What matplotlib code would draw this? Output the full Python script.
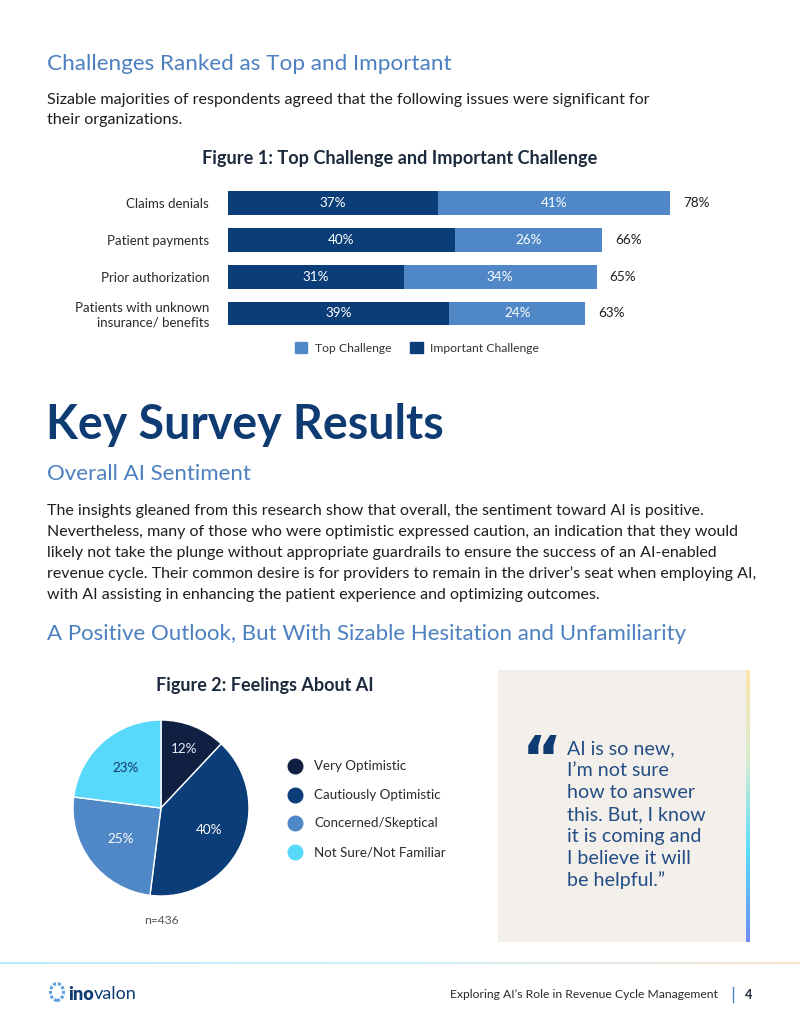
"""Recreate report page: challenges bar chart and AI feelings pie."""

import matplotlib
matplotlib.use('Agg')
import matplotlib.pyplot as plt
from matplotlib.patches import Rectangle, Patch, Circle
from matplotlib.lines import Line2D
from matplotlib.colors import LinearSegmentedColormap
import numpy as np

plt.rcParams['font.family'] = ['Lato', 'DejaVu Sans']

# Figure 1 data
challenges = ["Claims denials", "Patient payments", "Prior authorization",
              "Patients with unknown\ninsurance/ benefits"]
important = [37, 40, 31, 39]
top = [41, 26, 34, 24]
totals = [78, 66, 65, 63]

# Figure 2 data
feelings = ["Very Optimistic", "Cautiously Optimistic", "Concerned/Skeptical", "Not Sure/Not Familiar"]
feel_pct = [12, 40, 25, 23]

W, H = 800, 1035
fig = plt.figure(figsize=(W / 100, H / 100), dpi=100, facecolor="white")


def fx(x):
    return x / W


def fy(y):
    return 1 - y / H


def box(x0, y0, x1, y1):
    return [fx(x0), fy(y1), (x1 - x0) / W, (y1 - y0) / H]


LIGHT = "#5087c7"
DARK = "#0b3d79"
VDARK = "#0f2043"
CYAN = "#58d9fb"
HEAD = "#4c80c1"
NAVY = "#0d3b72"
TXT = "#1e1e1e"

# --- Top section text ---
fig.text(fx(47), fy(64), "Challenges Ranked as Top and Important", fontsize=16.2,
         color=HEAD, va="center")
fig.text(fx(47), fy(100), "Sizable majorities of respondents agreed that the following issues were significant for",
         fontsize=11.6, color=TXT, va="center")
fig.text(fx(47), fy(120), "their organizations.", fontsize=11.6, color=TXT, va="center")
fig.text(fx(400), fy(158), "Figure 1: Top Challenge and Important Challenge", fontsize=13.1,
         fontweight="bold", color="#1b2a3c", ha="center", va="center")

# --- Chart 1: stacked horizontal bars ---
ax1 = fig.add_axes(box(228, 185, 795, 331.8))
y = np.arange(len(challenges))
b_dark = ax1.barh(y, important, height=0.65, color=DARK, edgecolor="none")
b_light = ax1.barh(y, top, left=important, height=0.65, color=LIGHT, edgecolor="none")
for i in range(len(challenges)):
    ax1.text(important[i] / 2, y[i], f"{important[i]}%", color="white", fontsize=9.7,
             ha="center", va="center")
    ax1.text(important[i] + top[i] / 2, y[i], f"{top[i]}%", color="white", fontsize=9.7,
             ha="center", va="center")
    ax1.text(important[i] + top[i] + 2.3, y[i], f"{totals[i]}%", color=TXT, fontsize=9.7,
             ha="left", va="center")
ax1.set_xlim(0, 100)
ax1.set_ylim(len(challenges) - 0.5, -0.5)
ax1.set_yticks(y)
ax1.set_yticklabels(challenges, fontsize=9.5, color="#2a2a2a", linespacing=1.25)
ax1.tick_params(axis="y", length=0, pad=13.5)
ax1.set_xticks([])
for s in ax1.spines.values():
    s.set_visible(False)

fig.legend(handles=[Patch(color=LIGHT), Patch(color=DARK)],
           labels=["Top Challenge", "Important Challenge"],
           loc="center", bbox_to_anchor=(fx(417), fy(348)), ncol=2, frameon=False,
           fontsize=8.7, handlelength=1.0, handleheight=1.0, handletextpad=0.6,
           columnspacing=1.6, labelcolor="#333333")

# --- Key Survey Results section ---
fig.text(fx(46), fy(425), "Key Survey Results", fontsize=33.5, fontweight="bold",
         color=NAVY, va="center")
fig.text(fx(47), fy(474), "Overall AI Sentiment", fontsize=16, color=HEAD, va="center")
para = [
    "The insights gleaned from this research show that overall, the sentiment toward AI is positive.",
    "Nevertheless, many of those who were optimistic expressed caution, an indication that they would",
    "likely not take the plunge without appropriate guardrails to ensure the success of an AI-enabled",
    "revenue cycle. Their common desire is for providers to remain in the driver\u2019s seat when employing AI,",
    "with AI assisting in enhancing the patient experience and optimizing outcomes.",
]
for k, line in enumerate(para):
    fig.text(fx(47), fy(511 + 21 * k), line, fontsize=11.5, color=TXT, va="center")
fig.text(fx(47), fy(634), "A Positive Outlook, But With Sizable Hesitation and Unfamiliarity",
         fontsize=16, color=HEAD, va="center")

# --- Chart 2: pie ---
fig.text(fx(265), fy(685), "Figure 2: Feelings About AI", fontsize=13, fontweight="bold",
         color="#1b2a3c", ha="center", va="center")
pie_colors = [VDARK, DARK, LIGHT, CYAN]
ax2 = fig.add_axes(box(66, 713, 256, 903))
wedges, _ = ax2.pie(feel_pct, colors=pie_colors, startangle=90, counterclock=False,
                    wedgeprops=dict(edgecolor="white", linewidth=1))
lim = 95 / 88
ax2.set_xlim(-lim, lim)
ax2.set_ylim(-lim, lim)
lab_dist = [0.72, 0.6, 0.58, 0.6]
lab_col = ["#e8eef7", "white", "white", "#123a6a"]
for w, p, d, c in zip(wedges, feel_pct, lab_dist, lab_col):
    ang = np.deg2rad((w.theta1 + w.theta2) / 2)
    ax2.text(d * np.cos(ang), d * np.sin(ang), f"{p}%", ha="center", va="center",
             fontsize=9.7, color=c)

for k, (lab, col) in enumerate(zip(feelings, pie_colors)):
    yy = 766 + 28.7 * k
    fig.add_artist(Line2D([fx(295)], [fy(yy)], marker="o", markersize=10.5,
                          color=col, linestyle="none"))
    fig.text(fx(314), fy(yy), lab, fontsize=9.6, color="#2a2a2a", va="center")

fig.text(fx(161), fy(921), "n=436", fontsize=8.7, color="#555555", ha="center", va="center")

# --- Quote box ---
fig.add_artist(Rectangle((fx(498), fy(942)), 248 / W, 272 / H, transform=fig.transFigure,
                         facecolor="#f3f0eb", edgecolor="none"))
grad = LinearSegmentedColormap.from_list("qbar", ["#fde5ab", "#d8ecd0", "#58dcfb", "#6d8cf0"])
axg = fig.add_axes(box(746, 670, 750, 942))
axg.imshow(np.linspace(0, 1, 256).reshape(-1, 1), aspect="auto", cmap=grad)
axg.axis("off")

fig.text(fx(522), fy(763), "\u201c", fontsize=44, fontweight="bold", color=NAVY,
         family="DejaVu Sans", va="center", ha="left")
quote = ["AI is so new,", "I\u2019m not sure", "how to answer", "this. But, I know",
         "it is coming and", "I believe it will", "be helpful.\u201d"]
for k, line in enumerate(quote):
    fig.text(fx(567), fy(749 + 21.8 * k), line, fontsize=14.1, color="#234d84", va="center")

# --- Footer ---
foot = LinearSegmentedColormap.from_list("foot", ["#b8ecfb", "#cdeefa", "#fbe4cf"])
axf = fig.add_axes(box(0, 962, 800, 964.5))
axf.imshow(np.linspace(0, 1, 256).reshape(1, -1), aspect="auto", cmap=foot)
axf.axis("off")

fig.add_artist(Circle((fx(57), fy(992)), 6.5 / W, transform=fig.transFigure, fill=False,
                      edgecolor="#5f9fe0", linewidth=2.2, linestyle=(0, (1, 0.6))))
t_ino = fig.text(fx(68), fy(994), "ino", fontsize=13, fontweight="heavy", color=NAVY, va="center")
fig.canvas.draw()
ext = t_ino.get_window_extent()
fig.text(ext.x1 / W + 0.5 / W, fy(994), "valon", fontsize=13, color=NAVY, va="center")
fig.text(fx(718), fy(995), "Exploring AI\u2019s Role in Revenue Cycle Management", fontsize=8.7,
         color="#2a2a2a", ha="right", va="center")
fig.add_artist(Line2D([fx(733), fx(733)], [fy(987), fy(1002)], color=HEAD, linewidth=1))
fig.text(fx(749), fy(995), "4", fontsize=9, fontweight="bold", color="#1b2a3c",
         ha="center", va="center")

plt.savefig("out.png", dpi=100, facecolor="white")
